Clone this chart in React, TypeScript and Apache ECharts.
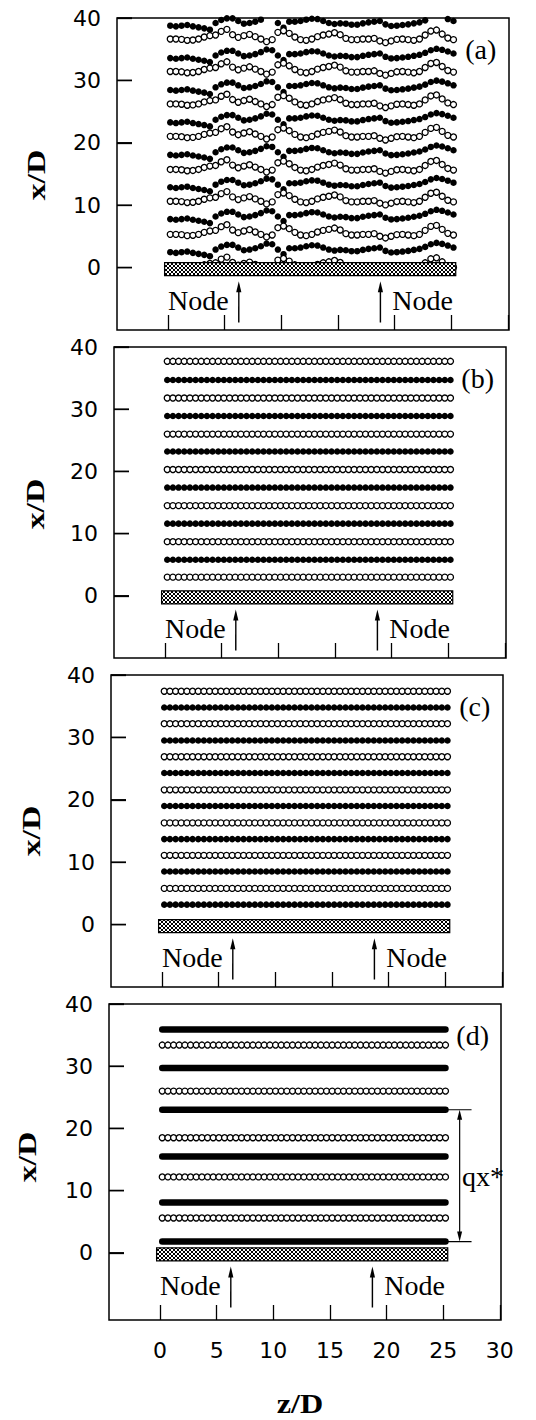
import React, { useEffect, useRef } from "react";
import * as echarts from "echarts";

// ---------- data ----------
// spanwise positions of the vortex markers (z/D)
const zGrid = [
  0.2, 0.7, 1.2, 1.7, 2.2, 2.7, 3.2, 3.7, 4.2, 4.7, 5.2, 5.7, 6.2, 6.7, 7.2, 7.7, 8.2,
  8.7, 9.2, 9.7, 10.2, 10.7, 11.2, 11.7, 12.2, 12.7, 13.2, 13.7, 14.2, 14.7, 15.2, 15.7,
  16.2, 16.7, 17.2, 17.7, 18.2, 18.7, 19.2, 19.7, 20.2, 20.7, 21.2, 21.7, 22.2, 22.7,
  23.2, 23.7, 24.2, 24.7, 25.2,
];
// panel (a): wavy rows, offset of each marker from its row's mean line (x/D)
const waveOpenA = [
  -0.27, -0.27, -0.32, -0.48, -0.43, -0.27, 0.05, 0.27, 0.37, 0.96, 1.28, 0.43, 0, 0.27,
  0.48, 0.11, -0.27, -0.69, -0.37, 0.8, 1.06, 0.64, 0.05, -0.37, -0.48, -0.27, 0.11, 0.37,
  0.53, 0.74, 0.43, -0.16, -0.37, -0.37, -0.27, -0.27, -0.16, -0.58, -0.85, -0.58, -0.32,
  -0.27, -0.37, -0.48, -0.27, 0.37, 1.01, 1.17, 0.53, -0.11, -0.37,
];
const waveFilledA = [
  -0.53, -0.64, -0.53, -0.43, -0.64, -0.8, -0.96, -1.17, -0.11, 0.37, 0.64, 0.64, 0.21,
  -0.21, -0.11, 0.11, 0.43, 0.85, 0.74, -0.11, -0.85, 0.11, 0.11, 0.21, 0.43, 0.58, 0.53,
  0.21, -0.11, -0.27, -0.16, -0.21, -0.37, -0.37, -0.16, 0, 0.11, 0.21, -0.32, -0.58,
  -0.53, -0.43, -0.32, -0.16, 0, 0.32, 0.74, 0.96, 0.8, 0.53, 0.21,
];
const rowsOpenA = [0.4, 5.6, 10.9, 16.0, 21.3, 26.5, 31.7, 36.9];
const rowsFilledA = [3.0, 8.3, 13.4, 18.6, 23.8, 29.0, 34.1, 39.3];
// panels (b)-(d): straight rows (x/D)
const rowsOpenB = [3.0, 8.7, 14.5, 20.3, 26.0, 31.8, 37.7];
const rowsFilledB = [5.8, 11.6, 17.4, 23.2, 28.9, 34.7];
const rowsOpenC = [5.8, 11.1, 16.3, 21.6, 26.9, 32.2, 37.4];
const rowsFilledC = [3.2, 8.5, 13.7, 19.0, 24.3, 29.5, 34.8];
const rowsOpenD = [5.6, 12.2, 18.5, 26.0, 33.4];
const rowsFilledD = [1.8, 8.1, 15.5, 23.0, 29.7, 35.9];

const panelLabels = ["(a)", "(b)", "(c)", "(d)"];
const yTicks = [0, 10, 20, 30, 40];
const zTicks = [0, 5, 10, 15, 20, 25, 30];
const nodeZ = [6.25, 18.75];
const plateZ = [-0.3, 25.4];
const plateY = [-1.3, 0.8];
const qxRange = [1.8, 23.0];

// ---------- layout ----------
const Z_MIN = -4.5;
const Z_MAX = 30.1;
const Y_MAX = 40;
const panels = [
  { left: 117, top: 18, height: 312, ymin: -10, titleX: 36, titleY: 175 },
  { left: 114, top: 347, height: 311, ymin: -10, titleX: 35, titleY: 504 },
  { left: 111, top: 675, height: 312, ymin: -10, titleX: 31, titleY: 831 },
  { left: 109, top: 1004, height: 316, ymin: -10.8, titleX: 27, titleY: 1157 },
];
const PANEL_W = 392;

const straightRows = (rows: number[]) => {
  const out: number[][] = [];
  rows.forEach((b) => zGrid.forEach((z) => out.push([z, b])));
  return out;
};
const wavyRows = (rows: number[], wave: number[]) => {
  const out: number[][] = [];
  rows.forEach((b) => zGrid.forEach((z, i) => out.push([z, b + wave[i]])));
  return out;
};

export default function App() {
  const ref = useRef<HTMLDivElement>(null);

  useEffect(() => {
    if (!ref.current) return;
    const cv = document.createElement("canvas");
    cv.width = 4;
    cv.height = 4;
    const ctx = cv.getContext("2d")!;
    ctx.fillStyle = "#fff";
    ctx.fillRect(0, 0, 4, 4);
    ctx.fillStyle = "#000";
    for (let i = 0; i < 4; i++) {
      ctx.fillRect(i, i, 1, 1);
      ctx.fillRect(3 - i, i, 1, 1);
    }
    const hatch: any = { image: cv.toDataURL(), repeat: "repeat", imageWidth: 4, imageHeight: 4 };

    const chart = echarts.init(ref.current, undefined, { renderer: "svg" });

    const openStyle = { color: "#fff", borderColor: "#000", borderWidth: 1.3, opacity: 1 };
    const filledStyle = { color: "#000", opacity: 1 };

    const series: any[] = [];
    const openData = [
      wavyRows(rowsOpenA, waveOpenA),
      straightRows(rowsOpenB),
      straightRows(rowsOpenC),
      straightRows(rowsOpenD),
    ];
    const filledData = [
      wavyRows(rowsFilledA, waveFilledA),
      straightRows(rowsFilledB),
      straightRows(rowsFilledC),
    ];

    panels.forEach((_, p) => {
      if (p < 3) {
        series.push({
          type: "scatter",
          xAxisIndex: p,
          yAxisIndex: p,
          symbol: "circle",
          symbolSize: 6.5,
          itemStyle: filledStyle,
          data: filledData[p],
          z: 2,
          silent: true,
        });
      } else {
        rowsFilledD.forEach((b) => {
          series.push({
            type: "line",
            xAxisIndex: p,
            yAxisIndex: p,
            symbol: "none",
            lineStyle: { color: "#000", width: 6.5, cap: "round", opacity: 1 },
            data: zGrid.map((z) => [z, b]),
            z: 2,
            silent: true,
          });
        });
      }
      series.push({
        type: "scatter",
        xAxisIndex: p,
        yAxisIndex: p,
        symbol: "circle",
        symbolSize: 6,
        itemStyle: openStyle,
        data: openData[p],
        z: 3,
        silent: true,
      });
      series.push({
        type: "custom",
        xAxisIndex: p,
        yAxisIndex: p,
        data: [[0, 0]],
        z: 10,
        silent: true,
        clip: false,
        renderItem: (params: any, api: any) => {
          const c = (z: number, y: number) => api.coord([z, y]);
          const children: any[] = [];
          const [x0, y0] = c(plateZ[0], plateY[1]);
          const [x1, y1] = c(plateZ[1], plateY[0]);
          children.push({
            type: "rect",
            shape: { x: x0, y: y0, width: x1 - x0, height: y1 - y0 },
            style: { fill: hatch, stroke: "#000", lineWidth: 1.2 },
          });
          nodeZ.forEach((z) => {
            const [ax, ab] = c(z, -8.8);
            const [, at] = c(z, -2.2);
            children.push({
              type: "line",
              shape: { x1: ax, y1: ab, x2: ax + 0.01, y2: at + 8 },
              style: { stroke: "#000", lineWidth: 1.4 },
            });
            children.push({
              type: "polygon",
              shape: { points: [[ax, at], [ax - 2.6, at + 11], [ax + 2.6, at + 11]] },
              style: { fill: "#000" },
            });
          });
          const [nlx, ny] = c(0, -5.3);
          const [nrx] = c(25.15, -5.3);
          const nodeFont = '28px "Liberation Serif"';
          children.push({
            type: "text",
            style: { text: "Node", x: nlx, y: ny, font: nodeFont, fill: "#000", align: "left", verticalAlign: "middle" },
          });
          children.push({
            type: "text",
            style: { text: "Node", x: nrx, y: ny, font: nodeFont, fill: "#000", align: "right", verticalAlign: "middle" },
          });
          const [lx, ly] = c(27.6, 35);
          children.push({
            type: "text",
            style: {
              text: panelLabels[p],
              x: lx,
              y: ly,
              font: '28px "Liberation Serif"',
              fill: "#000",
              align: "center",
              verticalAlign: "middle",
            },
          });
          if (p === 3) {
            const [ha, ya] = c(25.4, qxRange[0]);
            const [hb] = c(27.5, qxRange[0]);
            const [, yb] = c(25.4, qxRange[1]);
            const [vx] = c(26.45, 0);
            children.push({ type: "line", shape: { x1: ha, y1: ya, x2: hb, y2: ya + 0.01 }, style: { stroke: "#000", lineWidth: 1.2 } });
            children.push({ type: "line", shape: { x1: ha, y1: yb, x2: hb, y2: yb + 0.01 }, style: { stroke: "#000", lineWidth: 1.2 } });
            children.push({ type: "line", shape: { x1: vx, y1: ya - 8, x2: vx + 0.01, y2: yb + 8 }, style: { stroke: "#000", lineWidth: 1.2 } });
            children.push({ type: "polygon", shape: { points: [[vx, yb], [vx - 2.5, yb + 10], [vx + 2.5, yb + 10]] }, style: { fill: "#000" } });
            children.push({ type: "polygon", shape: { points: [[vx, ya], [vx - 2.5, ya - 10], [vx + 2.5, ya - 10]] }, style: { fill: "#000" } });
            const [qx, qy] = c(26.65, 12.3);
            children.push({
              type: "text",
              style: { text: "qx*", x: qx, y: qy, font: '28px "Liberation Serif"', fill: "#000", align: "left", verticalAlign: "middle" },
            });
          }
          return { type: "group", children };
        },
      });
    });

    // inward left-frame ticks (drawn as decorations on top of everything)
    const tickGraphics: any[] = [];
    panels.forEach((g) => {
      yTicks.forEach((v) => {
        const ty = g.top + ((Y_MAX - v) / (Y_MAX - g.ymin)) * g.height;
        tickGraphics.push({
          type: "rect",
          z: 100,
          shape: { x: g.left, y: ty - 0.75, width: 15, height: 1.5 },
          style: { fill: "#000" },
        });
      });
    });

    const option: any = {
      animation: false,
      backgroundColor: "#fff",
      grid: panels.map((g) => ({
        left: g.left,
        top: g.top,
        width: PANEL_W,
        height: g.height,
        show: true,
        borderColor: "#000",
        borderWidth: 1.5,
        containLabel: false,
        outerBoundsMode: "none",
      })),
      xAxis: panels.map((_, p) => ({
        type: "value",
        gridIndex: p,
        min: Z_MIN,
        max: Z_MAX,
        axisLine: { show: false, onZero: false },
        splitLine: { show: false },
        axisTick: {
          show: true,
          inside: true,
          length: 15,
          customValues: zTicks,
          lineStyle: { color: "#000", width: 1.3 },
        },
        axisLabel: {
          show: p === 3,
          customValues: zTicks,
          fontFamily: "DejaVu Sans",
          fontSize: 22,
          color: "#000",
          margin: 19,
        },
      })),
      yAxis: panels.map((g, p) => ({
        type: "value",
        gridIndex: p,
        min: g.ymin,
        max: Y_MAX,
        axisLine: { show: false, onZero: false },
        splitLine: { show: false },
        axisTick: {
          show: true,
          inside: true,
          length: 15,
          customValues: yTicks,
          lineStyle: { color: "#000", width: 1.3 },
        },
        axisLabel: {
          customValues: yTicks,
          fontFamily: "DejaVu Sans",
          fontSize: 22,
          color: "#000",
          margin: 16,
        },
      })),
      graphic: [
        ...tickGraphics,
        ...panels.map((g) => ({
          type: "text",
          x: g.titleX,
          y: g.titleY,
          rotation: Math.PI / 2,
          scaleX: 1.3,
          style: {
            text: "x/D",
            font: 'bold 26px "Liberation Serif"',
            fill: "#000",
            align: "center",
            verticalAlign: "middle",
          },
        })),
        {
          type: "text",
          x: 300,
          y: 1404,
          scaleX: 1.15,
          style: {
            text: "z/D",
            font: 'bold 28px "Liberation Serif"',
            fill: "#000",
            align: "center",
            verticalAlign: "middle",
          },
        },
      ],
      series,
    };

    chart.setOption(option);
    return () => chart.dispose();
  }, []);

  return (
    <div
      ref={ref}
      style={{ position: "absolute", left: 0, top: 0, width: 536, height: 1420, background: "#fff" }}
    />
  );
}
